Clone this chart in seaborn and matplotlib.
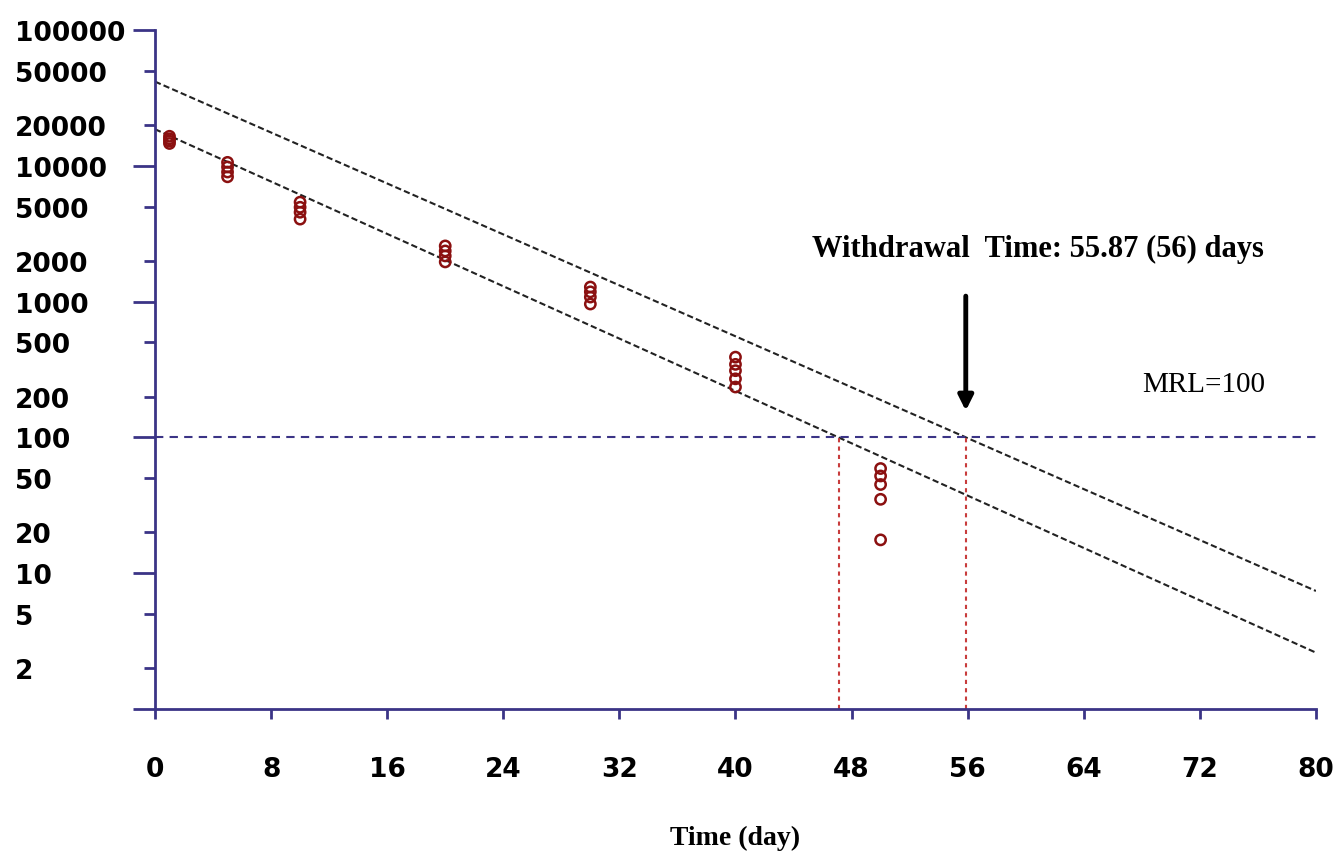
import matplotlib
matplotlib.use('Agg')
import matplotlib.pyplot as plt
import seaborn as sns
import pandas as pd

# residue measurements (day, concentration)
days = [1, 1, 1, 1,
        5, 5, 5, 5,
        10, 10, 10, 10,
        20, 20, 20, 20,
        30, 30, 30, 30,
        40, 40, 40, 40, 40,
        50, 50, 50, 50, 50]
conc = [16500, 15800, 15200, 14600,
        10600, 9800, 9000, 8300,
        5400, 4950, 4550, 4050,
        2570, 2360, 2170, 1960,
        1280, 1180, 1080, 960,
        390, 345, 310, 270, 235,
        59, 52, 45, 35, 17.6]

# regression line and upper tolerance limit (end points)
line_days = [0, 80]
regression = [18600, 2.6]
upper_limit = [41700, 7.4]

mrl = 100
wt_lower = 47.1
wt_upper = 55.87

y_major = [1, 10, 100, 1000, 10000, 100000]
y_major_labels = ['', '10', '100', '1000', '10000', '100000']
y_minor = [2, 5, 20, 50, 200, 500, 2000, 5000, 20000, 50000]
y_minor_labels = ['2', '5', '20', '50', '200', '500', '2000', '5000', '20000', '50000']
x_ticks = list(range(0, 81, 8))

axis_color = '#3b3486'
point_color = '#8b1010'

sns.set_style('white', {'text.color': 'black', 'xtick.color': 'black', 'ytick.color': 'black'})
plt.rcParams['font.family'] = ['DejaVu Sans']

df = pd.DataFrame({'day': days, 'conc': conc})

fig = plt.figure(figsize=(13.36, 8.54), dpi=100)
ax = fig.add_axes([0.116, 0.1686, 0.869, 0.7951])

sns.lineplot(x=line_days, y=upper_limit, ax=ax, color='#222222', lw=1.5,
             linestyle=(0, (3, 1.5)))
sns.lineplot(x=line_days, y=regression, ax=ax, color='#222222', lw=1.5,
             linestyle=(0, (3, 1.5)))
sns.scatterplot(data=df, x='day', y='conc', ax=ax, marker='o', s=55,
                facecolor='none', edgecolor=point_color, linewidth=1.8, zorder=5)

ax.axhline(mrl, color=axis_color, lw=1.5, ls=(0, (4, 3)))
ax.vlines([wt_lower, wt_upper], 1, mrl, color='#c83c3c', lw=1.5, ls=(0, (2, 2)))

ax.annotate('', xy=(wt_upper, 150), xytext=(wt_upper, 1150),
            arrowprops=dict(arrowstyle='-|>', lw=3.5, color='black', mutation_scale=22))

ax.text(45.3, 2450, 'Withdrawal  Time: 55.87 (56) days', fontsize=22, fontweight='bold',
        family='Liberation Serif', ha='left', va='center', color='black')
ax.text(68.0, 247, 'MRL=100', fontsize=21, family='Liberation Serif', ha='left',
        va='center', color='black')

ax.set_yscale('log')
ax.set_ylim(1, 100000)
ax.set_xlim(0, 80)

ax.set_yticks(y_major)
ax.set_yticklabels(y_major_labels)
ax.set_yticks(y_minor, minor=True)
ax.set_yticklabels(y_minor_labels, minor=True)
ax.tick_params(axis='y', which='major', left=True, direction='out', length=16, width=2,
               color=axis_color, labelcolor='black', pad=85, labelsize=19)
ax.tick_params(axis='y', which='minor', left=True, direction='out', length=8, width=2,
               color=axis_color, labelcolor='black', pad=93, labelsize=19)
for lab in ax.get_yticklabels() + ax.get_yticklabels(minor=True):
    lab.set_ha('left')
    lab.set_fontweight('bold')

ax.set_xticks(x_ticks)
ax.set_xticklabels([str(t) for t in x_ticks])
ax.tick_params(axis='x', which='major', bottom=True, direction='out', length=7, width=2,
               color=axis_color, labelcolor='black', pad=27, labelsize=19)
for lab in ax.get_xticklabels():
    lab.set_fontweight('bold')

ax.set_xlabel('Time (day)', fontsize=20, fontweight='bold', family='Liberation Serif',
              labelpad=31, color='black')
ax.set_ylabel('')

for side in ['top', 'right']:
    ax.spines[side].set_visible(False)
for side in ['left', 'bottom']:
    ax.spines[side].set_color(axis_color)
    ax.spines[side].set_linewidth(2)

fig.savefig('out.png', dpi=100)
